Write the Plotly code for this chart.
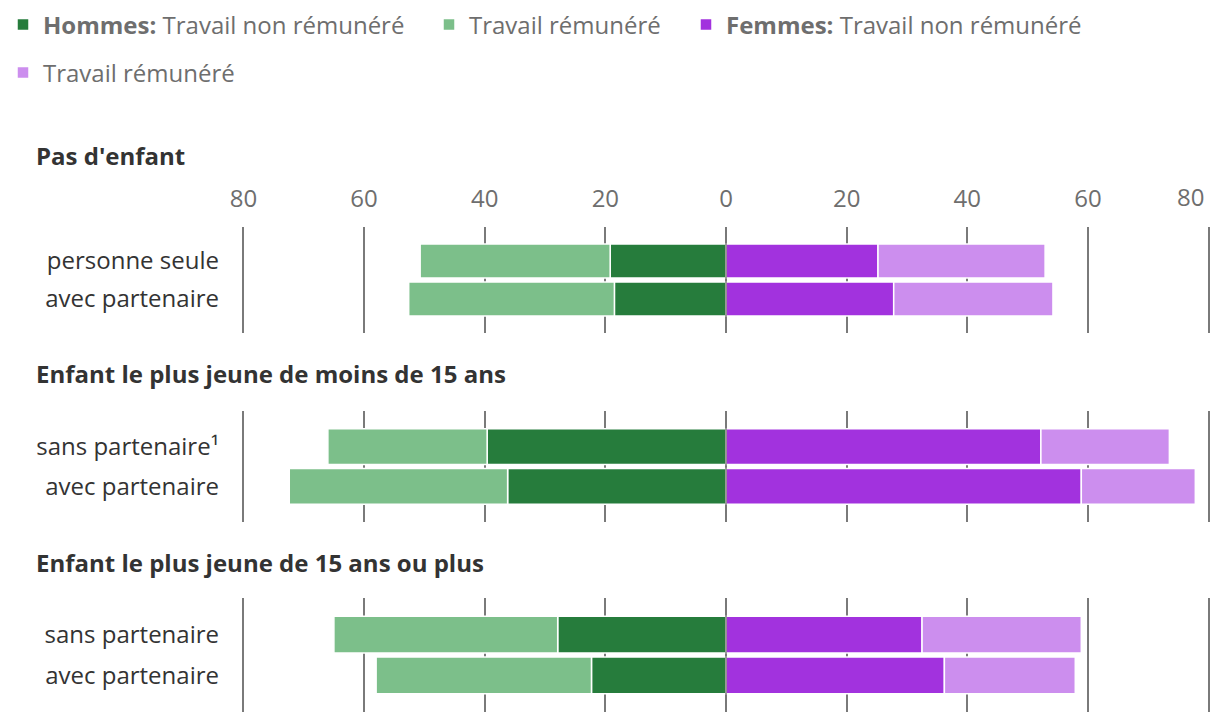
import plotly.graph_objects as go
from plotly.subplots import make_subplots

groups = ["Pas d'enfant",
          "Enfant le plus jeune de moins de 15 ans",
          "Enfant le plus jeune de 15 ans ou plus"]
rows = [["personne seule", "avec partenaire"],
        ["sans partenaire¹", "avec partenaire"],
        ["sans partenaire", "avec partenaire"]]
hommes_non_rem = [[19.2, 18.5], [39.6, 36.2], [27.9, 22.3]]
hommes_rem = [[31.5, 34.1], [26.4, 36.2], [37.1, 35.7]]
femmes_non_rem = [[25.2, 27.8], [52.2, 58.9], [32.5, 36.2]]
femmes_rem = [[27.7, 26.4], [21.3, 18.9], [26.4, 21.7]]
tick_vals = [-80, -60, -40, -20, 0, 20, 40, 60, 80]
tick_text = ["80", "60", "40", "20", "0", "20", "40", "60", "80"]

series = [
    ("<b>Hommes:</b> Travail non rémunéré", hommes_non_rem, -1, "#267c3c", "legend"),
    ("Travail rémunéré", hommes_rem, -1, "#7cbf8a", "legend2"),
    ("<b>Femmes:</b> Travail non rémunéré", femmes_non_rem, 1, "#a232de", "legend3"),
    ("Travail rémunéré", femmes_rem, 1, "#cc8eee", "legend4"),
]

# page has an 8px body margin; figure is sized to fit the 1220x724 window without scrollbars
OFF = 8
W, H = 1220 - 2 * OFF, 724 - 2 * OFF


def fx(px):
    return (px - OFF) / W


def fy(py):
    return 1 - (py - OFF) / H


L, R = 241, 1211
domains_px = [(227, 333), (411, 522), (598, 712)]
title_gap = [72, 38, 36]

fig = make_subplots(rows=3, cols=1)

for gi in range(3):
    for si, (name, vals, sign, color, lg) in enumerate(series):
        fig.add_trace(go.Bar(
            y=rows[gi], x=[sign * v for v in vals[gi]], orientation="h",
            name=name, marker=dict(color=color, line=dict(color="white", width=1.5)),
            showlegend=(gi == 0), legend=lg, width=0.9,
        ), row=gi + 1, col=1)

font_fam = "Open Sans, Noto Sans, sans-serif"
gray = "#6e6e6e"
grid = "#7a7a7a"
FS = 24

for gi in range(3):
    top, bot = domains_px[gi]
    ax = "" if gi == 0 else str(gi + 1)
    ttext = tick_text[:-1] + [""]
    fig.update_layout(**{
        f"xaxis{ax}": dict(
            domain=[fx(L), min(fx(R), 1)], range=[-80.4, 80.4], tickvals=tick_vals, ticktext=ttext,
            showticklabels=(gi == 0), side="top", showgrid=True, gridcolor=grid,
            gridwidth=1.5, zeroline=False, showline=False, ticks="",
            tickfont=dict(size=FS, color=gray, family=font_fam),
            ticklabelstandoff=14, fixedrange=True, automargin=False,
        ),
        f"yaxis{ax}": dict(
            domain=[max(fy(bot), 0), fy(top)], type="category",
            categoryarray=rows[gi], range=[1.9, -0.9], showgrid=False,
            zeroline=False, showline=False, ticks="",
            tickfont=dict(size=FS, color="#333333", family=font_fam),
            ticklabelstandoff=21, automargin=False,
        ),
    })
    fig.add_shape(type="line", xref=f"x{ax}", yref=f"y{ax} domain",
                  x0=0, x1=0, y0=0, y1=1, layer="above",
                  line=dict(color=grid, width=1.5))
    fig.add_annotation(text=f"<b>{groups[gi]}</b>", xref="paper", yref="paper",
                       x=fx(34), y=fy(top - title_gap[gi]),
                       xanchor="left", yanchor="middle", showarrow=False,
                       font=dict(size=FS, color="#333333", family=font_fam))

fig.add_annotation(text="80", xref="x", yref="paper", x=tick_vals[-1],
                   y=fy(196), xanchor="right", yanchor="middle",
                   xshift=-3, showarrow=False,
                   font=dict(size=FS, color=gray, family=font_fam))

leg_font = dict(size=FS, color=gray, family=font_fam)
leg_pos = [(3, 25), (429, 25), (686, 25), (3, 73)]
for i, (lx, ly) in enumerate(leg_pos):
    key = "legend" if i == 0 else f"legend{i + 1}"
    fig.update_layout(**{key: dict(
        xref="paper", yref="paper", x=fx(lx), y=fy(ly),
        xanchor="left", yanchor="middle", orientation="h",
        font=leg_font, bgcolor="rgba(0,0,0,0)", itemclick=False,
    )})

fig.update_layout(
    width=W, height=H, barmode="relative", bargap=0.1,
    margin=dict(l=0, r=0, t=0, b=0, autoexpand=False),
    plot_bgcolor="white", paper_bgcolor="white",
    font=dict(family=font_fam),
)

fig.write_html("out.html")
